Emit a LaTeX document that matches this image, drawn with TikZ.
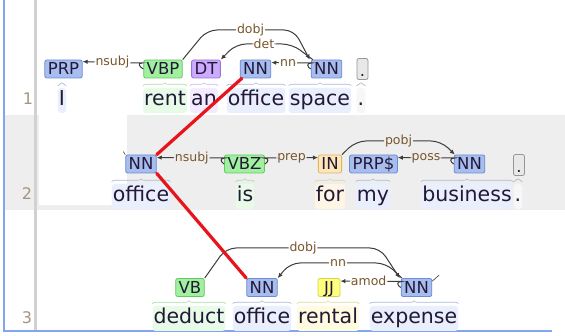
\documentclass[tikz,border=0pt]{standalone}
\usepackage{fontspec}
\setmainfont{DejaVu Sans}
\usetikzlibrary{arrows.meta}
\usetikzlibrary{decorations.pathreplacing}
\definecolor{nnfill}{RGB}{167,189,240}
\definecolor{nndraw}{RGB}{110,140,210}
\definecolor{nntint}{RGB}{233,239,252}
\definecolor{nnbr}{RGB}{168,184,220}
\definecolor{vbfill}{RGB}{160,240,160}
\definecolor{vbdraw}{RGB}{100,200,100}
\definecolor{vbtint}{RGB}{232,251,232}
\definecolor{vbbr}{RGB}{168,220,168}
\definecolor{dtfill}{RGB}{204,170,255}
\definecolor{dtdraw}{RGB}{150,120,210}
\definecolor{dttint}{RGB}{243,236,254}
\definecolor{dtbr}{RGB}{200,180,232}
\definecolor{infill}{RGB}{255,230,185}
\definecolor{indraw}{RGB}{225,180,100}
\definecolor{intint}{RGB}{255,245,228}
\definecolor{inbr}{RGB}{232,204,152}
\definecolor{jjfill}{RGB}{255,255,128}
\definecolor{jjdraw}{RGB}{215,210,70}
\definecolor{jjtint}{RGB}{255,251,224}
\definecolor{jjbr}{RGB}{224,220,152}
\definecolor{ptfill}{RGB}{232,232,232}
\definecolor{ptdraw}{RGB}{150,150,150}
\definecolor{pttint}{RGB}{247,247,247}
\definecolor{ptbr}{RGB}{176,176,176}
\definecolor{band}{RGB}{238,238,238}
\definecolor{arcgray}{RGB}{60,60,60}
\definecolor{labtext}{RGB}{120,85,45}
\definecolor{wordtext}{RGB}{35,25,55}
\definecolor{linenum}{RGB}{165,150,130}
\definecolor{frame}{RGB}{130,165,240}
\definecolor{linkred}{RGB}{232,20,28}

\begin{document}
\begin{tikzpicture}[x=1pt,y=-1pt,
  tagbox/.style={draw, rounded corners=2pt, line width=0.8pt, text=wordtext,
    font=\fontsize{16.5}{18}\selectfont, inner xsep=3pt, inner ysep=3pt,
    text height=12pt, text depth=0pt, minimum width=22pt},
  nnbox/.style={tagbox, fill=nnfill, draw=nndraw},
  vbbox/.style={tagbox, fill=vbfill, draw=vbdraw},
  dtbox/.style={tagbox, fill=dtfill, draw=dtdraw},
  inbox/.style={tagbox, fill=infill, draw=indraw},
  jjbox/.style={tagbox, fill=jjfill, draw=jjdraw},
  ptbox/.style={tagbox, fill=ptfill, draw=ptdraw, minimum width=11pt, inner xsep=1pt, text height=15pt},
  word/.style={anchor=base, fill=#1, rounded corners=3pt, text=wordtext,
    font=\fontsize{20.5}{22}\selectfont, inner xsep=1pt, inner ysep=3pt,
    text height=15pt, text depth=4pt},
  brc/.style={draw=#1, line width=0.6pt, decorate, decoration={brace, amplitude=3pt}},
  deparc/.style={draw=arcgray, line width=1pt, rounded corners=10pt, -{Latex[length=5pt,width=4.5pt]}},
  lab/.style={font=\fontsize{12.5}{14}\selectfont, text=labtext, fill=white, inner sep=1pt},
  rownum/.style={font=\fontsize{16}{18}\selectfont, text=linenum},
  link/.style={draw=linkred, line width=3.2pt, line cap=round}]
\useasboundingbox (0,0) rectangle (565,336);
\fill[white] (0,0) rectangle (565,336);
% row bands and frame
\fill[band] (5,115) rectangle (565,210);
\fill[white] (39,115) rectangle (127,205);
\draw[draw=black!18, line width=3pt] (35,0) -- (35,330);
\draw[draw=frame, line width=1.5pt] (4,0) -- (4,331) -- (552,331);
\node[rownum] (n1) at (28,99) {1};
\node[rownum] (n2) at (27,194) {2};
\node[rownum] (n3) at (27,318) {3};

% sentence 1
\node[word=nntint] (w1a) at (62,106) {I};
\node[word=vbtint] (w1b) at (165,106) {rent};
\node[word=dttint] (w1c) at (204,106) {an};
\node[word=nntint] (w1d) at (256,106) {office};
\node[word=nntint] (w1e) at (320,106) {space};
\node[word=pttint] (w1f) at (361,106) {.};
\node[nnbox] (prp1) at (63.5,69) {PRP};
\node[vbbox] (vbp1) at (163,69) {VBP};
\node[dtbox] (dt1) at (206,69) {DT};
\node[nnbox] (nn1a) at (255.5,69) {NN};
\node[nnbox] (nn1b) at (326.5,69) {NN};
\node[ptbox] (pt1) at (362.5,69) {.};
\draw[deparc] (vbp1.west) to[out=150,in=0] ++(-11,-6) -- ([yshift=-2pt]prp1.north east) node[lab,pos=0.4] (nsubj1) {nsubj};
\draw[deparc] (nn1b.west) to[out=150,in=0] ++(-9,-6) -- ([yshift=-3pt]nn1a.north east) node[lab,pos=0.45] (nnlab1) {nn};
\draw[deparc] (vbp1.north east) -- (207,30) -- node[lab] (dobj1) {dobj} (294,30) -- ([xshift=-1pt]nn1b.north west);
\draw[deparc] ([xshift=2pt]nn1b.north west) -- (292,44) -- node[lab] (det1) {det} (236,44) -- (dt1.north east);

% sentence 2
\node[word=nntint] (w2a) at (141,202) {office};
\node[word=vbtint] (w2b) at (245,202) {is};
\node[word=intint] (w2c) at (330,202) {for};
\node[word=nntint] (w2d) at (373,202) {my};
\node[word=nntint] (w2e) at (467,202) {business};
\node[word=pttint] (w2f) at (518,202) {.};
\node[nnbox] (nn2a) at (141,164) {NN};
\node[vbbox] (vbz2) at (244.5,164) {VBZ};
\node[inbox] (in2) at (330,164) {IN};
\node[nnbox] (prps2) at (373.5,164) {PRP\$};
\node[nnbox] (nn2b) at (469.5,164) {NN};
\node[ptbox] (pt2) at (519,165) {.};
\draw[deparc] (vbz2.west) to[out=150,in=0] ++(-9,-6) -- ([yshift=-3pt]nn2a.north east) node[lab,fill=band,pos=0.4] (nsubj2) {nsubj};
\draw[deparc] (vbz2.east) to[out=30,in=180] ++(9,-6) -- ([yshift=-3pt]in2.north west) node[lab,fill=band,pos=0.4] (prep2) {prep};
\draw[deparc] (nn2b.west) to[out=150,in=0] ++(-9,-6) -- ([yshift=-3pt]prps2.north east) node[lab,fill=band,pos=0.4] (poss2) {poss};
\draw[deparc] (in2.north east) -- (356,141) -- node[lab,fill=band] (pobj2) {pobj} (441,141) -- ([xshift=1pt]nn2b.north west);
\draw[draw=arcgray, line width=0.6pt] (nn2a.north west) -- ++(-2,-3);

% sentence 3
\node[word=vbtint] (w3a) at (189,324) {deduct};
\node[word=nntint] (w3b) at (262,324) {office};
\node[word=jjtint] (w3c) at (328,324) {rental};
\node[word=nntint] (w3d) at (414,324) {expense};
\node[vbbox] (vb3) at (190,287.5) {VB};
\node[nnbox] (nn3a) at (262,287.5) {NN};
\node[jjbox] (jj3) at (329,287.5) {JJ};
\node[nnbox] (nn3b) at (416.5,287.5) {NN};
\draw[deparc] (vb3.north east) -- (226,248) -- node[lab] (dobj3) {dobj} (380,248) -- ([xshift=-1pt]nn3b.north west);
\draw[deparc] ([xshift=1pt]nn3b.north west) -- (386,263) -- node[lab] (nn3lab) {nn} (290,263) -- (nn3a.north east);
\draw[deparc] (nn3b.west) to[out=150,in=0] ++(-9,-6) -- ([yshift=-3pt]jj3.north east) node[lab,pos=0.45] (amod3) {amod};
\draw[draw=arcgray, line width=0.6pt] ([yshift=-3pt]nn3b.north east) -- ++(7,-6);

% braces from tags to words
\foreach \w/\c in {w1a/nnbr, w1b/vbbr, w1c/dtbr, w1d/nnbr, w1e/nnbr, w1f/ptbr,
  w2a/nnbr, w2b/vbbr, w2c/inbr, w2d/nnbr, w2e/nnbr, w2f/ptbr,
  w3a/vbbr, w3b/nnbr, w3c/jjbr, w3d/nnbr}
  \draw[brc=\c] ([yshift=2pt]\w.north west) -- ([yshift=2pt]\w.north east);

% links between the three sentences
\draw[link] ([xshift=2pt]nn1a.south west) -- (nn2a.north east);
\draw[link] (nn2a.south east) -- (nn3a.north west);
\end{tikzpicture}
\end{document}
